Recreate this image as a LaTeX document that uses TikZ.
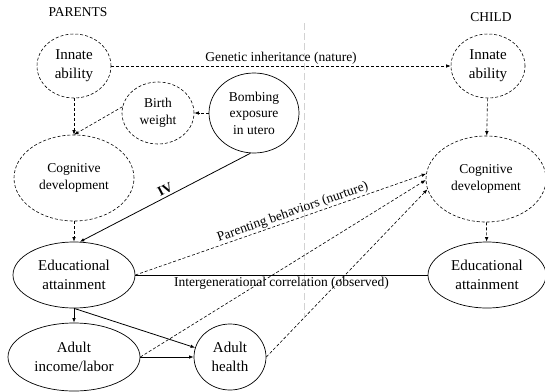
\documentclass[tikz,border=0pt]{standalone}
\usepackage{fontspec}
\setmainfont{Liberation Serif}
\usetikzlibrary{arrows.meta,shapes.geometric}
\begin{document}
\begin{tikzpicture}[x=1pt,y=-1pt,
  big/.style={font=\fontsize{15}{19}\selectfont},
  small/.style={font=\fontsize{13.5}{16.5}\selectfont},
  el/.style={ellipse, draw, inner sep=0pt, align=center, line width=0.7pt},
  dl/.style={dash pattern=on 3pt off 2pt, line width=0.6pt},
  sl/.style={line width=0.8pt},
  ar/.style={-{Latex[length=4.5pt,width=3.5pt]}},
  lab/.style={small, inner sep=1.5pt}]
\useasboundingbox (0,0) rectangle (545,391);
% divider
\coordinate (dtop) at (304,23);
\coordinate (dbot) at (304,316);
\draw[gray!35, line width=1pt, dash pattern=on 7pt off 3pt] (dtop) -- (dbot);
% headings
\node[small] (plab) at (78,12) {PARENTS};
\node[small] (clab) at (491,17) {CHILD};
% nodes
\node[el,dl,big,minimum width=74pt,minimum height=64pt] (pinn) at (74,66) {Innate\\ability};
\node[el,dl,big,minimum width=74pt,minimum height=64pt] (cinn) at (488,66) {Innate\\ability};
\node[el,dl,small,minimum width=72pt,minimum height=62pt] (bw) at (158,113) {Birth\\weight};
\node[el,small,minimum width=90pt,minimum height=80pt] (bomb) at (254,113) {Bombing\\exposure\\in utero};
\node[el,dl,small,minimum width=120pt,minimum height=86pt] (pcog) at (74,178) {Cognitive\\development};
\node[el,dl,small,minimum width=120pt,minimum height=86pt] (ccog) at (486,179) {Cognitive\\development};
\node[el,big,minimum width=122pt,minimum height=66pt] (pedu) at (74,275) {Educational\\attainment};
\node[el,big,minimum width=118pt,minimum height=66pt] (cedu) at (487,275) {Educational\\attainment};
\node[el,big,minimum width=132pt,minimum height=68pt] (pinc) at (74,357) {Adult\\income/labor};
\node[el,big,minimum width=72pt,minimum height=66pt] (phlth) at (230,357) {Adult\\health};
% connectors
\draw[dl,ar] (pinn) -- node[lab,above] (glab) {Genetic inheritance (nature)} (cinn);
\draw[dl,ar] (pinn) -- (pcog.north);
\draw[dl,ar] (bw.170) -- (pcog.north);
\draw[dl,ar] (bomb) -- (bw);
\draw[sl,ar] (bomb.265) -- node[lab,above,sloped,pos=0.48,inner sep=2.5pt,font=\fontsize{13.5}{16.5}\selectfont\bfseries] (ivlab) {IV} (pedu.80);
\draw[dl,ar] (pcog) -- (pedu.north);
\draw[dl,ar] (pedu.east) -- node[lab,above,sloped,pos=0.55,inner sep=1pt] (nlab) {Parenting behaviors (nurture)} (ccog.175);
\draw[sl] (pedu.east) -- node[lab,below,inner sep=2pt] (olab) {Intergenerational correlation (observed)} (cedu.west);
\draw[sl,ar] (pedu) -- (pinc);
\draw[sl,ar] (pedu.south) -- (phlth.165);
\draw[sl,ar] (pinc.east) -- (phlth.west);
\draw[dl,ar] (pinc.east) -- (ccog.181);
\draw[dl,ar] (phlth.east) -- (ccog.190);
\draw[dl,ar] (cinn) -- (ccog);
\draw[dl,ar] (ccog) -- (cedu);
\end{tikzpicture}
\end{document}
